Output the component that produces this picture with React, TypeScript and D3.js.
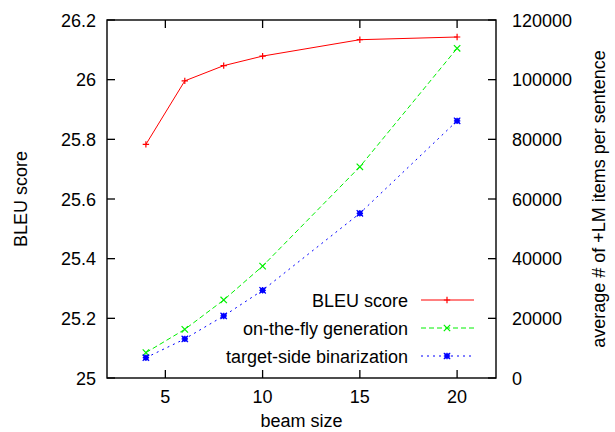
import React, { useRef, useEffect } from 'react';
import * as d3 from 'd3';

const beamSizes = [4, 6, 8, 10, 15, 20];
const bleuScores = [25.783, 25.996, 26.047, 26.079, 26.134, 26.143];
const onTheFly = [8500, 16300, 26150, 37500, 70800, 110500];
const targetSide = [6800, 13100, 20800, 29400, 55200, 86200];

const xTicks = [5, 10, 15, 20];
const yTicks = [25, 25.2, 25.4, 25.6, 25.8, 26, 26.2];
const y2Ticks = [0, 20000, 40000, 60000, 80000, 100000, 120000];

const series = [
  { name: 'BLEU score', values: bleuScores, axis: 'y', color: '#ff0000', dash: null, marker: 'plus' },
  { name: 'on-the-fly generation', values: onTheFly, axis: 'y2', color: '#00f000', dash: '5,3', marker: 'cross' },
  { name: 'target-side binarization', values: targetSide, axis: 'y2', color: '#0000ff', dash: '2,4', marker: 'star' },
];

const W = 615;
const H = 432;
const margin = { left: 107, right: 119, top: 20, bottom: 54 };
const FONT = '"Liberation Sans", Arial, Helvetica, sans-serif';

function drawMarker(g, type, x, y, color) {
  const s = 3.2;
  const path = d3.path();
  if (type === 'plus' || type === 'star') {
    path.moveTo(x - s, y); path.lineTo(x + s, y);
    path.moveTo(x, y - s); path.lineTo(x, y + s);
  }
  if (type === 'cross' || type === 'star') {
    path.moveTo(x - s, y - s); path.lineTo(x + s, y + s);
    path.moveTo(x - s, y + s); path.lineTo(x + s, y - s);
  }
  g.append('path').attr('d', path.toString()).attr('stroke', color).attr('stroke-width', 1.2).attr('fill', 'none');
  if (type === 'star') {
    g.append('rect').attr('x', x - 2.5).attr('y', y - 2.5).attr('width', 5).attr('height', 5).attr('fill', color);
  }
}

function App() {
  const svgRef = useRef(null);

  useEffect(() => {
    const svg = d3.select(svgRef.current);
    svg.selectAll('*').remove();

    const x0 = margin.left;
    const x1 = W - margin.right;
    const y0 = H - margin.bottom;
    const y1 = margin.top;

    const xScale = d3.scaleLinear().domain([2, 22]).range([x0, x1]);
    const yScale = d3.scaleLinear().domain([25, 26.2]).range([y0, y1]);
    const y2Scale = d3.scaleLinear().domain([0, 120000]).range([y0, y1]);

    const axes = svg.append('g').attr('font-family', FONT).attr('font-size', 18).attr('fill', '#000');
    const tickLen = 8;

    // x ticks, bottom and mirrored on top
    xTicks.forEach((t) => {
      const x = xScale(t);
      axes.append('line').attr('x1', x).attr('x2', x).attr('y1', y0).attr('y2', y0 - tickLen).attr('stroke', '#000').attr('stroke-width', 1.3);
      axes.append('line').attr('x1', x).attr('x2', x).attr('y1', y1).attr('y2', y1 + tickLen).attr('stroke', '#000').attr('stroke-width', 1.3);
      axes.append('text').attr('x', x).attr('y', y0 + 25).attr('text-anchor', 'middle').text(t);
    });

    // left axis
    yTicks.forEach((t) => {
      const y = yScale(t);
      axes.append('line').attr('x1', x0).attr('x2', x0 + tickLen).attr('y1', y).attr('y2', y).attr('stroke', '#000').attr('stroke-width', 1.3);
      axes.append('text').attr('x', x0 - 11).attr('y', y + 6.5).attr('text-anchor', 'end').text(d3.format('~g')(t));
    });

    // right axis
    y2Ticks.forEach((t) => {
      const y = y2Scale(t);
      axes.append('line').attr('x1', x1).attr('x2', x1 - tickLen).attr('y1', y).attr('y2', y).attr('stroke', '#000').attr('stroke-width', 1.3);
      axes.append('text').attr('x', x1 + 16).attr('y', y + 6.5).attr('text-anchor', 'start').text(t);
    });

    // border
    axes.append('rect').attr('x', x0).attr('y', y1).attr('width', x1 - x0).attr('height', y0 - y1)
      .attr('fill', 'none').attr('stroke', '#000').attr('stroke-width', 1.4);

    // axis titles
    axes.append('text').attr('x', (x0 + x1) / 2).attr('y', H - 5).attr('text-anchor', 'middle').text('beam size');
    axes.append('text').attr('transform', `translate(27,${(y0 + y1) / 2}) rotate(-90)`).attr('text-anchor', 'middle').text('BLEU score');
    axes.append('text').attr('transform', `translate(605,${(y0 + y1) / 2}) rotate(-90)`).attr('text-anchor', 'middle').text('average # of +LM items per sentence');

    // series
    series.forEach((s) => {
      const ys = s.axis === 'y' ? yScale : y2Scale;
      const line = d3.line().x((d, i) => xScale(beamSizes[i])).y((d) => ys(d));
      const g = svg.append('g');
      g.append('path').attr('d', line(s.values)).attr('fill', 'none').attr('stroke', s.color).attr('stroke-width', 1)
        .attr('stroke-dasharray', s.dash);
      s.values.forEach((v, i) => drawMarker(g, s.marker, xScale(beamSizes[i]), ys(v), s.color));
    });

    // legend
    const legend = svg.append('g').attr('font-family', FONT).attr('font-size', 18);
    series.forEach((s, i) => {
      const y = 300 + i * 28;
      legend.append('text').attr('x', 408).attr('y', y + 6.5).attr('text-anchor', 'end').text(s.name);
      legend.append('line').attr('x1', 421).attr('x2', 474).attr('y1', y).attr('y2', y)
        .attr('stroke', s.color).attr('stroke-width', 1).attr('stroke-dasharray', s.dash);
      drawMarker(legend, s.marker, 447, y, s.color);
    });
  }, []);

  return (
    <svg ref={svgRef} width={W} height={H} style={{ position: 'absolute', left: 0, top: 0, background: '#fff' }} />
  );
}

export default App;
